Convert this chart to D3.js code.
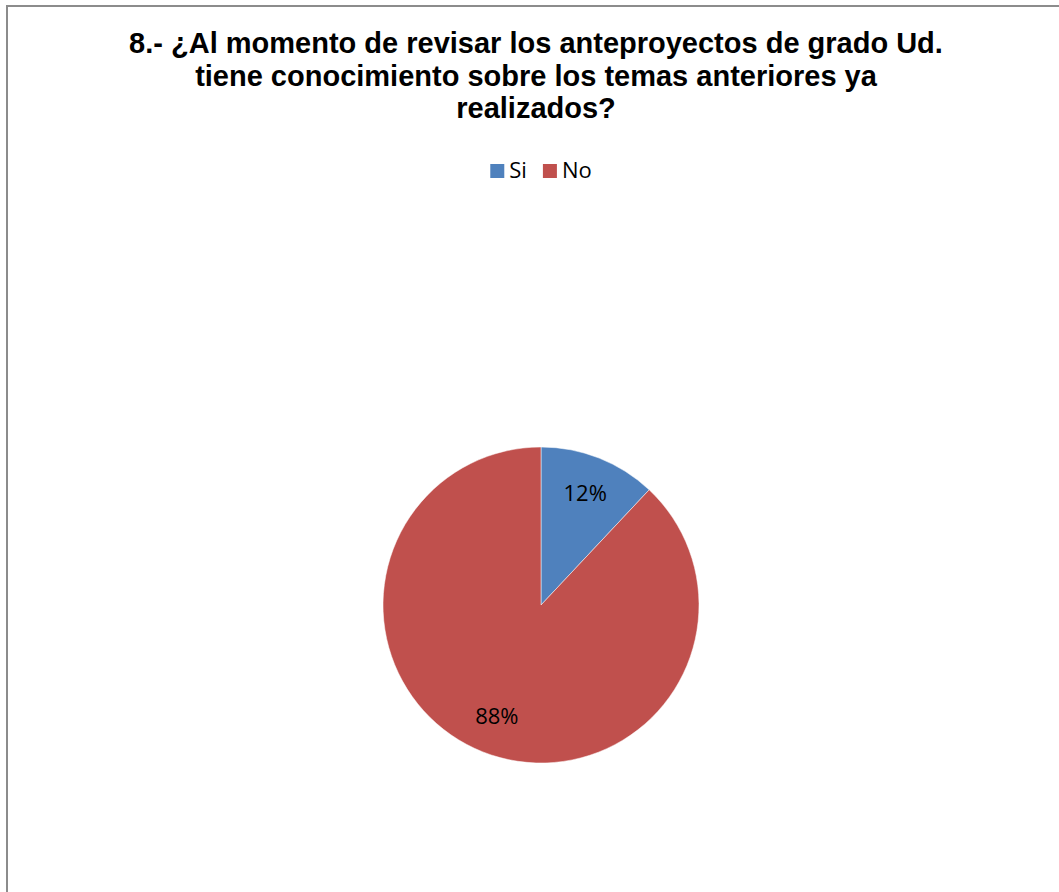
<!DOCTYPE html>
<head>
  <meta charset="utf-8">
  <script src="https://d3js.org/d3.v7.min.js"></script>
  <style>
    body { margin: 0; background: #fff; }
    .title { font-family: "Liberation Sans", Arial, sans-serif; font-weight: bold; font-size: 29px; }
    .lbl { font-family: "Open Sans", sans-serif; font-size: 22px; }
  </style>
</head>

<body>
  <script>
  var titleLines = [
    "8.- ¿Al momento de revisar los anteproyectos de grado Ud.",
    "tiene conocimiento sobre los temas anteriores ya",
    "realizados?"
  ];
  var categories = ["Si", "No"];
  var values = [12, 88];
  var colors = ["#4F81BD", "#C0504D"];

  var width = 1059,
      height = 892;

  var svg = d3.select("body").append("svg")
      .attr("width", width)
      .attr("height", height);

  svg.append("rect")
      .attr("x", 7)
      .attr("y", 6)
      .attr("width", width + 20)
      .attr("height", height + 20)
      .attr("fill", "#fff")
      .attr("stroke", "#8c8c8c")
      .attr("stroke-width", 2);

  // title
  svg.append("text")
      .attr("class", "title")
      .attr("text-anchor", "middle")
      .selectAll("tspan")
      .data(titleLines)
      .enter().append("tspan")
        .attr("x", 536)
        .attr("y", function(d, i) { return 53 + i * 32.5; })
        .text(function(d) { return d; });

  var color = d3.scaleOrdinal()
      .domain(categories)
      .range(colors);

  // legend
  var legend = svg.append("g");
  var items = legend.selectAll("g")
      .data(categories)
      .enter().append("g");

  items.append("rect")
      .attr("width", 14)
      .attr("height", 14)
      .attr("y", -14)
      .attr("fill", function(d) { return color(d); });

  items.append("text")
      .attr("class", "lbl")
      .attr("x", 19)
      .text(function(d) { return d; });

  var xoff = 0;
  items.each(function() {
    var w = this.getBBox().width;
    d3.select(this).attr("transform", "translate(" + xoff + ",0)");
    xoff += w + 16;
  });
  var legendW = xoff - 16;
  legend.attr("transform", "translate(" + (541 - legendW / 2) + ",178)");

  // pie
  var radius = 158;
  var g = svg.append("g")
      .attr("transform", "translate(541,605)");

  var pie = d3.pie().sort(null);
  var arc = d3.arc().innerRadius(0).outerRadius(radius);
  var labelArc = d3.arc().innerRadius(120).outerRadius(120);

  var arcs = pie(values);

  g.selectAll("path")
      .data(arcs)
      .enter().append("path")
        .attr("d", arc)
        .attr("fill", function(d, i) { return color(categories[i]); })
        .attr("stroke", "#fff")
        .attr("stroke-width", 0.5);

  g.selectAll("text")
      .data(arcs)
      .enter().append("text")
        .attr("class", "lbl")
        .attr("text-anchor", "middle")
        .attr("dy", "0.36em")
        .attr("transform", function(d) { return "translate(" + labelArc.centroid(d) + ")"; })
        .text(function(d) { return d.data + "%"; });
  </script>
</body>
